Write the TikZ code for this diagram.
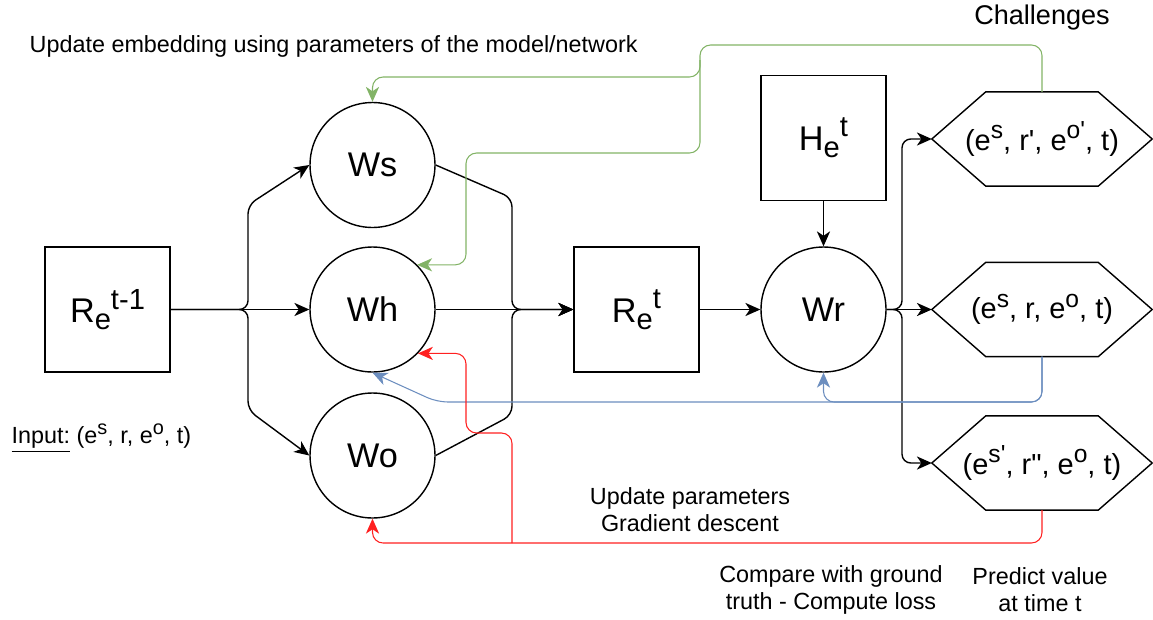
\documentclass[tikz,border=0pt]{standalone}
\usepackage{fontspec}
\setmainfont{Liberation Sans}
\usetikzlibrary{arrows.meta}
\definecolor{updgreen}{HTML}{82B366}
\definecolor{updblue}{HTML}{6C8EBF}
\definecolor{updred}{HTML}{FF2020}
\makeatletter
\newcommand{\hisup}[1]{\raisebox{0.4em}{\fontsize{\strip@pt\dimexpr\f@size pt*17/20\relax}{0}\selectfont #1}}
\newcommand{\losub}[1]{\raisebox{-0.2em}{\fontsize{\strip@pt\dimexpr\f@size pt*17/20\relax}{0}\selectfont #1}}
\makeatother

\begin{document}
\begin{tikzpicture}[x=0.02cm,y=-0.02cm,>={Stealth[length=8.5pt,width=7.5pt,inset=2.5pt]},line width=0.8pt,
		wnode/.style={circle,draw,minimum size=2.5cm,inner sep=0pt,font=\fontsize{19.5}{22}\selectfont},
		rnode/.style={rectangle,draw,minimum size=2.5cm,inner sep=0pt,font=\fontsize{19.5}{22}\selectfont},
		hexnode/.style={rectangle,minimum width=4.38cm,minimum height=1.86cm,inner sep=0pt,font=\fontsize{16.5}{19}\selectfont},
		note/.style={align=center,inner sep=0pt,font=\fontsize{13.3}{15.4}\selectfont},
		grn/.style={->,draw=updgreen,line width=0.6pt,rounded corners=6pt},
		blu/.style={->,draw=updblue,line width=0.6pt,rounded corners=6pt},
		rd/.style={->,draw=updred,line width=0.6pt,rounded corners=6pt}]
		\useasboundingbox (0,0) rectangle (1153,619);

		\node[rnode] (Rprev) at (107.5,309.5) {R\losub{e}\hisup{t-1}};
		\node[wnode] (Ws) at (372.5,165) {Ws};
		\node[wnode] (Wh) at (372.5,309.5) {Wh};
		\node[wnode] (Wo) at (372.5,455.5) {Wo};
		\node[rnode] (Rcur) at (636.5,309.5) {R\losub{e}\hisup{t}};
		\node[rnode] (Hcur) at (823.5,138) {H\losub{e}\hisup{t}};
		\node[wnode] (Wr) at (823.5,309.5) {Wr};
		\node[hexnode] (c1) at (1042,139) {(e\hisup{s}, r\textquotesingle, e\hisup{o\textquotesingle}, t)};
		\node[hexnode] (c2) at (1042,309.5) {(e\hisup{s}, r, e\hisup{o}, t)};
		\node[hexnode] (c3) at (1042,463) {(e\hisup{s\textquotesingle}, r\textquotedbl, e\hisup{o}, t)};
		\foreach \c in {c1,c2,c3}
			\draw (\c.west) -- ([xshift=1.08cm]\c.north west) -- ([xshift=-1.08cm]\c.north east) -- (\c.east)
				-- ([xshift=-1.08cm]\c.south east) -- ([xshift=1.08cm]\c.south west) -- cycle;

		\node[note,anchor=west] (updemb) at (29,46) {Update embedding using parameters of the model/network};
		\node[note,font=\fontsize{15.4}{18}\selectfont] (chal) at (1042,18) {Challenges};
		\node[note] (updpar) at (690,510) {Update parameters\\Gradient descent};
		\node[note] (cmp) at (831,590) {Compare with ground\\truth - Compute loss};
		\node[note] (pred) at (1040,590) {Predict value\\at time t};
		\node[note,anchor=west] (inp) at (11,438) {\underline{Input:} (e\hisup{s}, r, e\hisup{o}, t)};

		\draw[->] (Rprev) -- (Wh);
		\draw[->,rounded corners=5pt] (Rprev.east) -- (248,309.5) -- (248,205) -- (Ws.west);
		\draw[->,rounded corners=5pt] (Rprev.east) -- (248,309.5) -- (248,410) -- (Wo.west);
		\draw[->] (Wh) -- (Rcur);
		\draw[->,rounded corners=5pt] (Ws.east) -- (512,198) -- (512,309.5) -- (Rcur.west);
		\draw[->,rounded corners=5pt] (Wo.east) -- (512,415) -- (512,309.5) -- (Rcur.west);
		\draw[->] (Rcur) -- (Wr);
		\draw[->] (Hcur) -- (Wr);
		\draw[->] (Wr) -- (c2);
		\draw[->,rounded corners=5pt] (Wr.east) -- (902,309.5) |- (c1.west);
		\draw[->,rounded corners=5pt] (Wr.east) -- (902,309.5) |- (c3.west);

		\coordinate (gsplit) at (700,45);
		\draw[grn] (c1.north) |- (gsplit) |- (466,153) |- (Wh.45);
		\draw[grn] (700,60) |- (Ws.north |- 0,77) -- (Ws.north);
		\draw[blu] (c2.south) |- (437,402) -- (Wh.south);
		\draw[blu] (c2.south) |- (Wr.south |- 0,402) -- (Wr.south);
		\coordinate (rsplit) at (512,543);
		\draw[rd] (c3.south) |- (Wo.south |- 0,543) -- (Wo.south);
		\draw[rd] (rsplit) |- (466,433) |- (Wh.316);
\end{tikzpicture}
\end{document}
